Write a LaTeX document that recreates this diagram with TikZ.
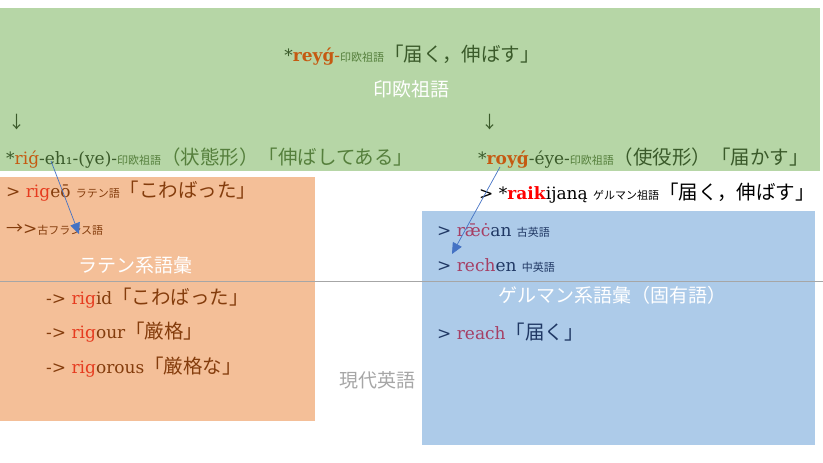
\documentclass[tikz,border=0pt]{standalone}
\usepackage{fontspec}
\setmainfont{DejaVu Serif}
\newfontfamily\jp{Noto Sans CJK JP}
\newfontfamily\dvs{DejaVu Sans}
\usetikzlibrary{arrows.meta}
\definecolor{gfill}{HTML}{B6D6A6}
\definecolor{ofill}{HTML}{F4BF98}
\definecolor{bfill}{HTML}{ADCBE9}
\definecolor{dgreen}{HTML}{3A5A2A}
\definecolor{mgreen}{HTML}{557F3C}
\definecolor{rootc}{HTML}{C55A11}
\definecolor{brownc}{HTML}{843C0C}
\definecolor{rigc}{HTML}{E63B1F}
\definecolor{navyc}{HTML}{203864}
\definecolor{crimc}{HTML}{A63F64}
\definecolor{graylc}{HTML}{A6A6A6}
\definecolor{arrc}{HTML}{4472C4}
\newcommand\szL{\fontsize{17}{19}\selectfont}
\newcommand\szJ{\fontsize{19.5}{21}\selectfont}
\newcommand\szT{\fontsize{19}{21}\selectfont}
\newcommand\szS{\fontsize{11}{13}\selectfont}
\newcommand\J[1]{{\jp\szJ #1}}
\newcommand\Js[1]{{\jp\szS #1}}
\begin{document}
\begin{tikzpicture}[x=1pt,y=-1pt,
  txt/.style={inner sep=0pt, anchor=west, font=\szL},
  ttl/.style={inner sep=0pt, anchor=center, font=\jp\szT, text=white},
  conn/.style={draw=arrc, line width=0.7pt, -{Triangle[length=11pt,width=10pt]}}]
\useasboundingbox (0,0) rectangle (823,463);
% boxes
\fill[gfill] (0,8) rectangle (820,171);
\fill[ofill] (0,177) rectangle (315,421);
\fill[bfill] (422,211) rectangle (815,445);
\draw[graylc, line width=0.8pt] (0,281) -- (823,281);
% top
\node[txt, anchor=center] (top) at (412,55) {\textcolor{dgreen}{*}\textcolor{rootc}{\textbf{reyǵ}-}\textcolor{mgreen}{\Js{印欧祖語}}\textcolor{dgreen}{\J{「届く，伸ばす」}}};
\node[ttl] (pie) at (411,89) {印欧祖語};
\node[txt, text=dgreen, font=\jp\szL] (d1) at (8,122) {↓};
\node[txt, text=dgreen, font=\jp\szL] (d2) at (481,122) {↓};
\node[txt] (rig) at (6,158) {\textcolor{dgreen}{*}\textcolor{rootc}{riǵ}\textcolor{dgreen}{-eh₁-(ye)-}\textcolor{mgreen}{\Js{印欧祖語}\J{（状態形）「伸ばしてある」}}};
\node[txt] (roy) at (478,158) {\textcolor{dgreen}{*}\textcolor{rootc}{\textbf{royǵ}}\textcolor{dgreen}{-éye-}\textcolor{mgreen}{\Js{印欧祖語}}\textcolor{dgreen}{\J{（使役形）「届かす」}}};
% latin side
\node[txt] (rigeo) at (6,191) {\textcolor{brownc}{> }\textcolor{rigc}{rig}\textcolor{brownc}{eō \Js{ラテン語}\J{「こわばった」}}};
\node[txt, text=brownc] (ofr) at (6,230) {{\jp →}>\Js{古フランス語}};
\node[ttl] (lat) at (135,265) {ラテン系語彙};
\node[txt] (rigid) at (46,298) {\textcolor{brownc}{-> }\textcolor{rigc}{rig}\textcolor{brownc}{id\J{「こわばった」}}};
\node[txt] (rigour) at (46,332) {\textcolor{brownc}{-> }\textcolor{rigc}{rig}\textcolor{brownc}{our\J{「厳格」}}};
\node[txt] (rigorous) at (46,367) {\textcolor{brownc}{-> }\textcolor{rigc}{rig}\textcolor{brownc}{orous\J{「厳格な」}}};
% germanic side
\node[txt] (raik) at (479,193) {> *\textcolor{red}{\textbf{raik}}ijaną \Js{ゲルマン祖語}\J{「届く，伸ばす」}};
\node[txt] (raecan) at (437,230) {\textcolor{navyc}{> }\textcolor{crimc}{rǣċ}\textcolor{navyc}{an \Js{古英語}}};
\node[txt] (rechen) at (437,265) {\textcolor{navyc}{> }\textcolor{crimc}{rech}\textcolor{navyc}{en \Js{中英語}}};
\node[ttl] (germ) at (612,295) {ゲルマン系語彙（固有語）};
\node[txt] (reach) at (437,332) {\textcolor{navyc}{> }\textcolor{crimc}{reach}\textcolor{navyc}{\J{「届く」}}};
\node[ttl, text=graylc] (modern) at (377,380) {現代英語};
% connectors
\coordinate (a1s) at (51,161);
\coordinate (a1e) at (79,234);
\coordinate (a2s) at (500,167);
\coordinate (a2e) at (452,254);
\draw[conn] (a1s) -- (a1e);
\draw[conn] (a2s) -- (a2e);
\end{tikzpicture}
\end{document}
